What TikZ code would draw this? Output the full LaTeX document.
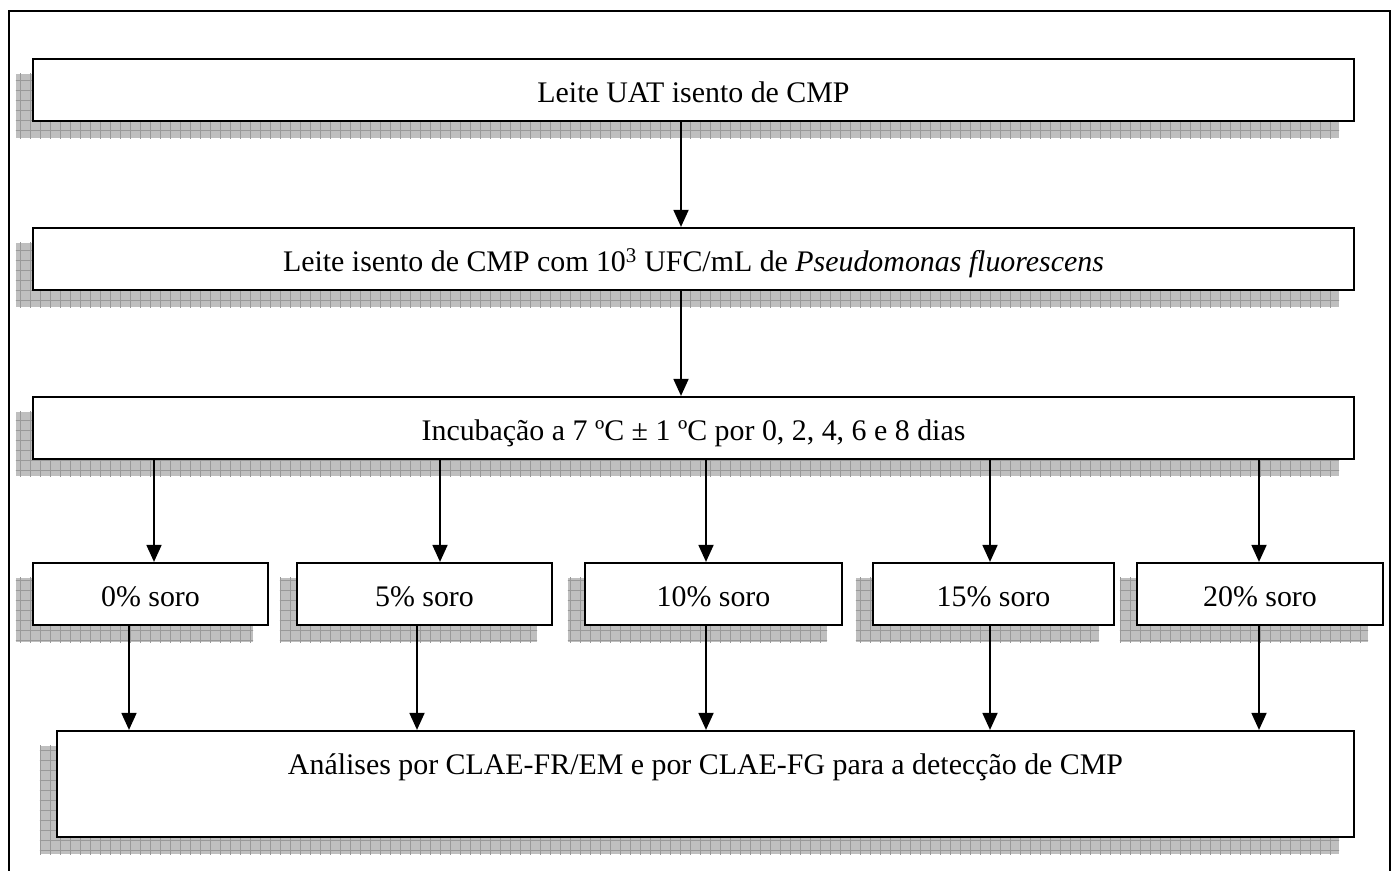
\documentclass[tikz,border=0pt]{standalone}
\usepackage{fontspec}
\setmainfont{Liberation Serif}
\usetikzlibrary{arrows.meta,backgrounds}
\newcommand\boxshadow[1]{%
  \begin{scope}
    \clip ([shift={(-16,16)}]#1.north west) rectangle ([shift={(-16,16)}]#1.south east);
    \fill[shadowfill] ([shift={(-16,16)}]#1.north west) rectangle ([shift={(-16,16)}]#1.south east);
    \draw[shadowgrid] (0,0) grid (1393,870);
  \end{scope}}
\begin{document}
\begin{tikzpicture}[x=1bp,y=-1bp,
  box/.style={draw=black, line width=2.2bp, fill=white, inner sep=0pt,
    text height=24bp, text depth=0bp, font=\fontsize{30}{35}\selectfont},
  arr/.style={line width=1.8bp, -{Triangle[length=17bp,width=15bp]}},
  frame/.style={line width=1.6bp},
  shadowfill/.style={fill=black!25},
  shadowgrid/.style={draw=black!40, line width=0.8bp, step=10bp},
]
\useasboundingbox (0,0) rectangle (1393,870);
\draw[frame] (9,875) -- (9,11) -- (1390,11) -- (1390,875);

\node[box, minimum width=1321bp, minimum height=62bp] (b1) at (693.5,90) {Leite UAT isento de CMP};
\node[box, minimum width=1321bp, minimum height=62bp] (b2) at (693.5,259)
  {Leite isento de CMP com 10\textsuperscript{3} UFC/mL de \textit{Pseudomonas fluorescens}};
\node[box, minimum width=1321bp, minimum height=62bp] (b3) at (693.5,428)
  {Incubação a 7 ºC ± 1 ºC por 0, 2, 4, 6 e 8 dias};

\node[box, minimum width=235bp, minimum height=62bp] (s0) at (150.5,594) {0\% soro};
\node[box, minimum width=255bp, minimum height=62bp] (s5) at (424.5,594) {5\% soro};
\node[box, minimum width=257bp, minimum height=62bp] (s10) at (713.5,594) {10\% soro};
\node[box, minimum width=241bp, minimum height=62bp] (s15) at (993.5,594) {15\% soro};
\node[box, minimum width=246bp, minimum height=62bp] (s20) at (1260,594) {20\% soro};

\node[box, minimum width=1297bp, minimum height=106bp, text depth=44bp] (fin) at (705.5,784)
  {Análises por CLAE-FR/EM e por CLAE-FG para a detecção de CMP};

\begin{scope}[on background layer]
  \foreach \n in {b1,b2,b3,s0,s5,s10,s15,s20,fin} {\boxshadow{\n}}
\end{scope}

\draw[arr] (b1.south -| 681,0) -- (b2.north -| 681,0);
\draw[arr] (b2.south -| 681,0) -- (b3.north -| 681,0);

\draw[arr] (b3.south -| 154,0) -- (s0.north -| 154,0);
\draw[arr] (b3.south -| 440,0) -- (s5.north -| 440,0);
\draw[arr] (b3.south -| 706,0) -- (s10.north -| 706,0);
\draw[arr] (b3.south -| 990,0) -- (s15.north -| 990,0);
\draw[arr] (b3.south -| 1259,0) -- (s20.north -| 1259,0);

\draw[arr] (s0.south -| 129,0) -- (fin.north -| 129,0);
\draw[arr] (s5.south -| 417,0) -- (fin.north -| 417,0);
\draw[arr] (s10.south -| 706,0) -- (fin.north -| 706,0);
\draw[arr] (s15.south -| 990,0) -- (fin.north -| 990,0);
\draw[arr] (s20.south -| 1259,0) -- (fin.north -| 1259,0);
\end{tikzpicture}
\end{document}
